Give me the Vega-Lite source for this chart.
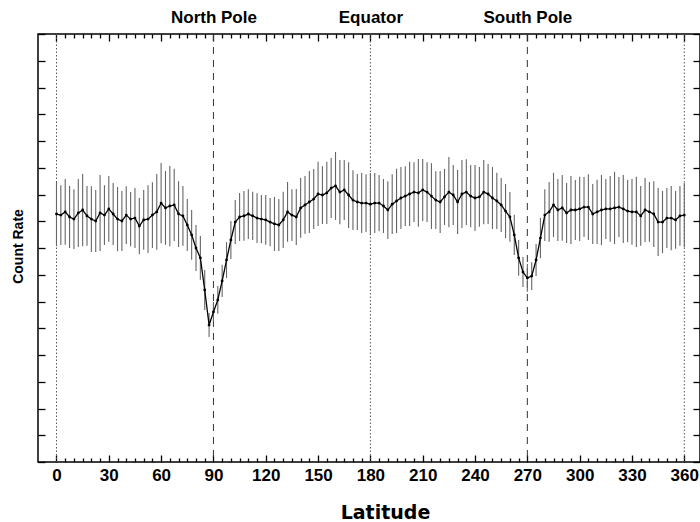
{
  "$schema": "https://vega.github.io/schema/vega-lite/v6.json",
  "width": 662,
  "height": 428,
  "autosize": "none",
  "padding": {"left": 38, "top": 34, "right": 0, "bottom": 60},
  "background": "white",
  "datasets": {
    "scan": [
      {"lat":0,"rate":9.27,"err":1.20},{"lat":2.5,"rate":9.23,"err":1.12},{"lat":5,"rate":9.35,"err":1.23},{"lat":7.5,"rate":9.16,"err":1.16},
      {"lat":10,"rate":9.08,"err":1.12},{"lat":12.5,"rate":9.31,"err":1.27},{"lat":15,"rate":9.42,"err":1.35},{"lat":17.5,"rate":9.20,"err":1.12},
      {"lat":20,"rate":9.08,"err":1.23},{"lat":22.5,"rate":9.01,"err":1.16},{"lat":25,"rate":9.31,"err":1.42},{"lat":27.5,"rate":9.23,"err":1.12},
      {"lat":30,"rate":9.46,"err":1.23},{"lat":32.5,"rate":9.27,"err":1.16},{"lat":35,"rate":9.08,"err":1.20},{"lat":37.5,"rate":9.01,"err":1.12},
      {"lat":40,"rate":9.23,"err":1.08},{"lat":42.5,"rate":9.08,"err":1.01},{"lat":45,"rate":9.12,"err":1.12},{"lat":47.5,"rate":8.82,"err":1.05},
      {"lat":50,"rate":9.05,"err":1.12},{"lat":52.5,"rate":9.08,"err":1.27},{"lat":55,"rate":9.23,"err":1.23},{"lat":57.5,"rate":9.35,"err":1.42},
      {"lat":60,"rate":9.68,"err":1.50},{"lat":62.5,"rate":9.50,"err":1.38},{"lat":65,"rate":9.57,"err":1.50},{"lat":67.5,"rate":9.61,"err":1.35},
      {"lat":70,"rate":9.27,"err":1.23},{"lat":72.5,"rate":9.20,"err":1.12},{"lat":75,"rate":8.86,"err":0.97},{"lat":77.5,"rate":8.49,"err":0.93},
      {"lat":80,"rate":8.00,"err":0.86},{"lat":82.5,"rate":7.63,"err":0.82},{"lat":85,"rate":6.43,"err":0.75},{"lat":87.5,"rate":5.12,"err":0.45},
      {"lat":90,"rate":5.61,"err":0.37},{"lat":92.5,"rate":6.06,"err":0.52},{"lat":95,"rate":6.77,"err":0.60},{"lat":97.5,"rate":7.55,"err":0.67},
      {"lat":100,"rate":8.30,"err":0.71},{"lat":102.5,"rate":8.97,"err":0.82},{"lat":105,"rate":9.16,"err":0.90},{"lat":107.5,"rate":9.20,"err":0.93},
      {"lat":110,"rate":9.27,"err":0.93},{"lat":112.5,"rate":9.20,"err":0.90},{"lat":115,"rate":9.12,"err":0.93},{"lat":117.5,"rate":9.08,"err":0.90},
      {"lat":120,"rate":9.05,"err":0.93},{"lat":122.5,"rate":8.97,"err":0.90},{"lat":125,"rate":8.90,"err":1.01},{"lat":127.5,"rate":8.86,"err":0.97},
      {"lat":130,"rate":9.05,"err":1.05},{"lat":132.5,"rate":9.35,"err":1.12},{"lat":135,"rate":9.23,"err":0.97},{"lat":137.5,"rate":9.16,"err":1.05},
      {"lat":140,"rate":9.50,"err":1.12},{"lat":142.5,"rate":9.61,"err":1.08},{"lat":145,"rate":9.72,"err":1.16},{"lat":147.5,"rate":9.83,"err":1.12},
      {"lat":150,"rate":10.02,"err":1.20},{"lat":152.5,"rate":9.98,"err":1.08},{"lat":155,"rate":10.06,"err":1.16},{"lat":157.5,"rate":10.24,"err":1.12},
      {"lat":160,"rate":10.32,"err":1.27},{"lat":162.5,"rate":10.09,"err":1.20},{"lat":165,"rate":10.17,"err":1.12},{"lat":167.5,"rate":9.98,"err":1.23},
      {"lat":170,"rate":9.79,"err":1.12},{"lat":172.5,"rate":9.72,"err":1.05},{"lat":175,"rate":9.68,"err":1.12},{"lat":177.5,"rate":9.68,"err":1.08},
      {"lat":180,"rate":9.64,"err":1.16},{"lat":182.5,"rate":9.68,"err":1.12},{"lat":185,"rate":9.68,"err":1.05},{"lat":187.5,"rate":9.57,"err":1.01},
      {"lat":190,"rate":9.42,"err":1.08},{"lat":192.5,"rate":9.64,"err":1.12},{"lat":195,"rate":9.76,"err":1.20},{"lat":197.5,"rate":9.87,"err":1.16},
      {"lat":200,"rate":9.94,"err":1.12},{"lat":202.5,"rate":10.02,"err":1.20},{"lat":205,"rate":10.09,"err":1.12},{"lat":207.5,"rate":10.06,"err":1.27},
      {"lat":210,"rate":10.17,"err":1.16},{"lat":212.5,"rate":10.09,"err":1.12},{"lat":215,"rate":9.94,"err":1.23},{"lat":217.5,"rate":9.79,"err":1.08},
      {"lat":220,"rate":9.72,"err":1.16},{"lat":222.5,"rate":9.91,"err":1.05},{"lat":225,"rate":10.09,"err":1.31},{"lat":227.5,"rate":9.98,"err":1.12},
      {"lat":230,"rate":9.72,"err":1.20},{"lat":232.5,"rate":10.02,"err":1.27},{"lat":235,"rate":10.09,"err":1.23},{"lat":237.5,"rate":9.94,"err":1.16},
      {"lat":240,"rate":9.87,"err":1.23},{"lat":242.5,"rate":9.91,"err":1.12},{"lat":245,"rate":10.09,"err":1.20},{"lat":247.5,"rate":10.02,"err":1.12},
      {"lat":250,"rate":9.87,"err":1.16},{"lat":252.5,"rate":9.76,"err":1.05},{"lat":255,"rate":9.61,"err":1.01},{"lat":257.5,"rate":9.38,"err":1.01},
      {"lat":260,"rate":9.16,"err":0.93},{"lat":262.5,"rate":8.49,"err":0.75},{"lat":265,"rate":7.63,"err":0.67},{"lat":267.5,"rate":7.10,"err":0.56},
      {"lat":270,"rate":6.88,"err":0.52},{"lat":272.5,"rate":6.95,"err":0.52},{"lat":275,"rate":7.55,"err":0.60},{"lat":277.5,"rate":8.37,"err":0.75},
      {"lat":280,"rate":9.23,"err":0.97},{"lat":282.5,"rate":9.35,"err":1.12},{"lat":285,"rate":9.61,"err":1.20},{"lat":287.5,"rate":9.42,"err":1.16},
      {"lat":290,"rate":9.50,"err":1.23},{"lat":292.5,"rate":9.31,"err":1.12},{"lat":295,"rate":9.42,"err":1.27},{"lat":297.5,"rate":9.42,"err":1.12},
      {"lat":300,"rate":9.46,"err":1.20},{"lat":302.5,"rate":9.53,"err":1.12},{"lat":305,"rate":9.53,"err":1.23},{"lat":307.5,"rate":9.27,"err":1.12},
      {"lat":310,"rate":9.35,"err":1.20},{"lat":312.5,"rate":9.42,"err":1.31},{"lat":315,"rate":9.46,"err":1.12},{"lat":317.5,"rate":9.46,"err":1.23},
      {"lat":320,"rate":9.50,"err":1.35},{"lat":322.5,"rate":9.53,"err":1.12},{"lat":325,"rate":9.46,"err":1.27},{"lat":327.5,"rate":9.38,"err":1.16},
      {"lat":330,"rate":9.35,"err":1.23},{"lat":332.5,"rate":9.35,"err":1.31},{"lat":335,"rate":9.20,"err":1.12},{"lat":337.5,"rate":9.42,"err":1.20},
      {"lat":340,"rate":9.35,"err":1.12},{"lat":342.5,"rate":9.27,"err":1.23},{"lat":345,"rate":8.97,"err":1.27},{"lat":347.5,"rate":8.97,"err":1.16},
      {"lat":350,"rate":9.12,"err":1.12},{"lat":352.5,"rate":9.12,"err":1.20},{"lat":355,"rate":9.05,"err":1.08},{"lat":357.5,"rate":9.20,"err":1.12},
      {"lat":360,"rate":9.23,"err":1.20}
    ],
    "dotted": [{"lat":0},{"lat":180},{"lat":360}],
    "dashed": [{"lat":90},{"lat":270}]
  },
  "layer": [
    {
      "data": {"name": "dotted"},
      "mark": {"type": "rule", "color": "#555", "strokeWidth": 1, "strokeDash": [1.5, 2]},
      "encoding": {
        "x": {"field": "lat", "type": "quantitative",
          "scale": {"domain": [-10.6, 369], "nice": false, "zero": false},
          "axis": {"orient": "bottom",
            "values": [0,5,10,15,20,25,30,35,40,45,50,55,60,65,70,75,80,85,90,95,100,105,110,115,120,125,130,135,140,145,150,155,160,165,170,175,180,185,190,195,200,205,210,215,220,225,230,235,240,245,250,255,260,265,270,275,280,285,290,295,300,305,310,315,320,325,330,335,340,345,350,355,360],
            "tickSize": -7,
            "tickDash": {"condition": {"test": "datum.value % 30 != 0", "value": [4, 20]}, "value": [9, 1]},
            "labelExpr": "datum.value % 30 == 0 ? datum.label : ''",
            "labelPadding": 25, "labelBaseline": "alphabetic",
            "title": "Latitude", "titleFont": "DejaVu Sans", "titleFontSize": 19, "titleFontWeight": "bold",
            "titleX": 347, "titleY": 56, "titleBaseline": "alphabetic", "titleColor": "#000"}}
      }
    },
    {
      "data": {"name": "dashed"},
      "mark": {"type": "rule", "color": "#333", "strokeWidth": 1, "strokeDash": [7, 6]},
      "encoding": {
        "x": {"field": "lat", "type": "quantitative",
          "scale": {"domain": [-10.6, 369], "nice": false, "zero": false},
          "axis": {"orient": "top",
            "values": [0,5,10,15,20,25,30,35,40,45,50,55,60,65,70,75,80,85,90,95,100,105,110,115,120,125,130,135,140,145,150,155,160,165,170,175,180,185,190,195,200,205,210,215,220,225,230,235,240,245,250,255,260,265,270,275,280,285,290,295,300,305,310,315,320,325,330,335,340,345,350,355,360],
            "tickSize": -7,
            "tickDash": {"condition": {"test": "datum.value % 30 != 0", "value": [4, 20]}, "value": [9, 1]},
            "labelPadding": 19, "labelBaseline": "alphabetic",
            "labelExpr": "datum.value == 90 ? 'North Pole' : datum.value == 180 ? 'Equator' : datum.value == 270 ? 'South Pole' : ''",
            "title": null}}
      }
    },
    {
      "data": {"name": "scan"},
      "mark": {"type": "errorbar", "rule": {"color": "#666", "strokeWidth": 1.1}},
      "encoding": {
        "x": {"field": "lat", "type": "quantitative",
          "scale": {"domain": [-10.6, 369], "nice": false, "zero": false}, "axis": null},
        "y": {"field": "rate", "type": "quantitative",
          "scale": {"domain": [0, 16], "nice": false, "zero": false},
          "axis": {"orient": "left", "values": [0,1,2,3,4,5,6,7,8,9,10,11,12,13,14,15,16],
            "tickSize": -7, "labels": false,
            "title": "Count Rate", "titleFont": "Liberation Sans", "titleFontSize": 14, "titleFontWeight": "bold",
            "titleX": -20, "titleY": 212, "titleAngle": -90, "titleAlign": "center", "titleBaseline": "middle", "titleColor": "#000"}},
        "yError": {"field": "err"}
      }
    },
    {
      "data": {"name": "scan"},
      "mark": {"type": "line", "color": "#000", "strokeWidth": 1.3},
      "encoding": {
        "x": {"field": "lat", "type": "quantitative",
          "scale": {"domain": [-10.6, 369], "nice": false, "zero": false}, "axis": null},
        "y": {"field": "rate", "type": "quantitative",
          "scale": {"domain": [0, 16], "nice": false, "zero": false},
          "axis": {"orient": "right", "values": [0,1,2,3,4,5,6,7,8,9,10,11,12,13,14,15,16],
            "tickSize": -7, "labels": false, "title": null}}
      }
    },
    {
      "data": {"name": "scan"},
      "mark": {"type": "point", "filled": true, "color": "#000", "size": 8, "opacity": 1},
      "encoding": {
        "x": {"field": "lat", "type": "quantitative",
          "scale": {"domain": [-10.6, 369], "nice": false, "zero": false}, "axis": null},
        "y": {"field": "rate", "type": "quantitative",
          "scale": {"domain": [0, 16], "nice": false, "zero": false}, "axis": null}
      }
    }
  ],
  "resolve": {"axis": {"x": "independent", "y": "independent"}},
  "config": {
    "view": {"stroke": "#000", "strokeWidth": 1.5},
    "axis": {
      "domain": false, "grid": false, "tickColor": "#000", "tickWidth": 1.3,
      "labelFont": "Liberation Sans", "labelFontWeight": "bold", "labelFontSize": 17, "labelColor": "#000",
      "labelFlush": false, "labelOverlap": false
    }
  }
}
